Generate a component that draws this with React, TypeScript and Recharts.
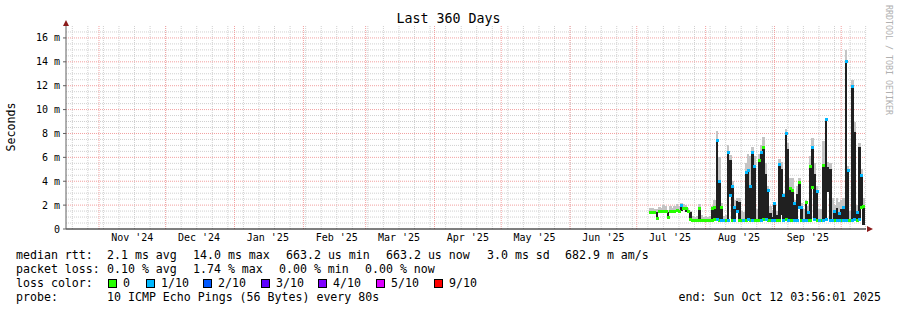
import React from 'react';
import { ComposedChart, Bar, Scatter, XAxis, YAxis, ReferenceLine, ReferenceDot } from 'recharts';

// ---- data (days since graph start, Oct 17 2024 03:56) ----
const sampleDay = [
  263, 264, 265, 266, 267, 268, 269, 270, 271, 272, 273, 274, 275, 276, 277, 278, 279, 280, 281, 282,
  283, 284, 285, 286, 287, 288, 289, 290, 291, 292, 293, 294, 295, 296, 297, 298, 299, 300, 301, 302,
  303, 304, 305, 306, 307, 308, 309, 310, 311, 312, 313, 314, 315, 316, 317, 318, 319, 320, 321, 322,
  323, 324, 325, 326, 327, 328, 329, 330, 331, 332, 333, 334, 335, 336, 337, 338, 339, 340, 341, 342,
  343, 344, 345, 346, 347, 348, 349, 350, 351, 352, 353, 354, 355, 356, 357, 358, 359,
];
// lowest median in the sample (ms)
const medianLow = [
  1.38, 1.38, 1.35, 0.85, 1.4, 1.4, 1.4, 1.35, 0.95, 1.4, 1.45, 1.45, 1.45, 1.45, 1.5, 1.55, 1.4, 1.4, 0.76, 0.72,
  0.72, 0.72, 0.75, 0.72, 0.72, 0.72, 0.72, 0.72, 0.75, 0.8, 0.8, 0.7, 0.7, 0.68, 0.68, 0.7, 2.8, 0.7, 0.7, 1.5,
  0.7, 0.68, 0.68, 0.7, 0.8, 0.75, 0.75, 0.75, 0.68, 0.7, 0.7, 0.8, 0.8, 0.7, 0.68, 0.68, 0.7, 0.7, 0.7, 1.2,
  0.7, 0.8, 0.75, 0.7, 0.7, 0.7, 0.7, 1.8, 0.7, 0.75, 0.7, 0.7, 0.7, 3.5, 0.8, 0.7, 0.68, 0.68, 0.7, 0.8,
  3.1, 0.7, 0.68, 0.7, 0.7, 0.7, 0.7, 0.7, 0.7, 0.7, 0.68, 0.7, 0.8, 0.7, 0.8, 1.8, 0.3,
];
// highest median in the sample (ms)
const medianHigh = [
  1.42, 1.42, 1.42, 1.4, 1.45, 1.45, 1.45, 1.45, 1.4, 1.5, 1.5, 1.5, 1.55, 1.5, 1.95, 1.7, 1.75, 1.5, 1.4, 0.8,
  0.8, 0.8, 1.7, 0.8, 0.8, 0.8, 0.8, 0.8, 1.7, 1.8, 7.4, 4.0, 1.8, 0.8, 0.8, 6.4, 5.8, 3.6, 1.8, 2.35,
  2.3, 0.8, 0.8, 4.7, 4.9, 3.6, 6.4, 5.2, 0.8, 5.7, 6.4, 6.85, 4.6, 3.2, 1.3, 1.0, 2.1, 1.2, 5.4, 5.0,
  2.8, 8.0, 6.7, 3.4, 3.2, 2.1, 2.9, 3.9, 1.8, 0.85, 2.2, 1.4, 5.2, 6.85, 4.6, 3.1, 0.8, 0.85, 5.3, 9.2,
  5.2, 5.05, 0.8, 1.5, 1.8, 1.26, 1.65, 1.8, 14.0, 4.9, 0.8, 11.9, 8.1, 1.4, 6.85, 4.5, 1.85,
];
// top of the grey smoke (ms)
const smokeTop = [
  1.75, 1.8, 1.7, 1.65, 1.85, 1.8, 2.0, 1.9, 1.6, 1.9, 1.8, 1.9, 2.1, 1.9, 2.2, 2.1, 2.0, 1.8, 1.5, 1.1,
  1.0, 1.1, 2.1, 1.2, 1.0, 1.1, 1.0, 1.1, 1.9, 2.4, 8.2, 6.0, 2.2, 1.1, 1.2, 7.0, 6.2, 4.0, 2.4, 2.6,
  2.6, 1.5, 1.4, 5.5, 6.3, 6.1, 6.9, 6.1, 1.7, 6.3, 7.0, 7.7, 5.5, 3.6, 1.9, 1.6, 2.3, 1.5, 5.9, 5.6,
  3.0, 8.4, 7.2, 4.3, 4.3, 2.4, 3.6, 4.3, 2.2, 1.7, 2.4, 1.9, 6.1, 7.6, 5.5, 3.6, 1.7, 1.7, 7.4, 9.3,
  5.6, 5.5, 2.6, 2.0, 2.6, 2.3, 2.4, 2.6, 15.0, 5.3, 1.5, 12.5, 9.0, 2.0, 7.2, 5.0, 2.6,
];
// packets lost (of 10) at the high / low median, null = no mark
const lossAtHigh = [
  0, 0, 0, null, 0, 0, 0, 0, null, 0, 0, 0, 0, 0, 1, 0, 0, 0, null, null,
  null, null, 0, null, null, null, null, null, 0, 0, 1, 1, 0, null, null, 1, null, 1, 1, null,
  null, null, null, 1, 1, 1, 1, 1, null, 0, 1, 0, null, 1, null, null, 1, null, 1, null,
  1, 1, null, 0, 0, 1, null, 0, 1, null, 0, 1, 0, 1, null, 1, null, null, 0, 1,
  null, null, null, 1, null, 1, null, 1, 1, 1, null, 1, null, 1, null, 1, 0,
];
const lossAtLow = [
  null, null, null, 0, null, null, null, null, 0, null, null, null, null, null, null, null, null, null, 0, 0,
  0, 0, 0, 0, 0, 0, 0, 0, 0, 0, 1, 0, 1, 1, 0, 1, 1, 0, 1, 1,
  0, 0, 1, 0, 1, 0, 1, 0, 0, 0, 1, 0, 1, 0, 0, 1, 1, 0, 0, null,
  1, 0, 1, 0, 0, 1, 1, 1, 0, 1, 1, 0, 0, 0, 1, 0, 1, 0, 1, 1,
  null, 1, 1, 0, 1, 1, 0, 1, 1, 0, 0, 1, 1, 0, 1, 0, null,
];

const monthStarts = [
  '2024-11-01', '2024-12-01', '2025-01-01', '2025-02-01', '2025-03-01', '2025-04-01',
  '2025-05-01', '2025-06-01', '2025-07-01', '2025-08-01', '2025-09-01', '2025-10-01',
];
const monthLabelDates = [
  '2024-11-16', '2024-12-16', '2025-01-16', '2025-02-16', '2025-03-16', '2025-04-16',
  '2025-05-16', '2025-06-16', '2025-07-16', '2025-08-16', '2025-09-16',
];
const monthLabels = [
  "Nov '24", "Dec '24", "Jan '25", "Feb '25", "Mar '25", "Apr '25",
  "May '25", "Jun '25", "Jul '25", "Aug '25", "Sep '25",
];
const yTicks = [0, 2, 4, 6, 8, 10, 12, 14, 16];
const yTickLabels = ['0', '2 m', '4 m', '6 m', '8 m', '10 m', '12 m', '14 m', '16 m'];
const firstSunday = '2024-10-20';
const lossColors = ['#26ff00', '#00b8ff', '#0059ff', '#5e00ff', '#7e00ff', '#dd00ff', '#ff0000'];
const lossLabels = ['0', '1/10', '2/10', '3/10', '4/10', '5/10', '9/10'];

const START = Date.UTC(2024, 9, 17, 3, 56, 1);
const DAY = 86400000;
const toDay = (s: string) => (Date.parse(s + 'T00:00:00Z') - START) / DAY;

const mono = '"DejaVu Sans Mono", monospace';
const MINOR = '#d0d0d0';
const MAJOR = '#f2a0a0';

const wideBar = (fill: string) => (p: any) => {
  if (p.x == null || p.y == null || !isFinite(p.height)) return <g />;
  const w = 2.6;
  const cx = p.x + p.width / 2;
  return (
    <rect x={cx - w / 2} y={p.y} width={w} height={Math.max(p.height, 1)} fill={fill} shapeRendering="crispEdges" />
  );
};

export default function App() {
  const rows = sampleDay.map((d, i) => ({
    day: d,
    smoke: [medianLow[i], smokeTop[i]],
    band: [medianLow[i], medianHigh[i]],
  }));
  const green: { day: number; v: number }[] = [];
  const blue: { day: number; v: number }[] = [];
  sampleDay.forEach((d, i) => {
    if (lossAtHigh[i] === 0) green.push({ day: d, v: medianHigh[i] });
    if (lossAtHigh[i] === 1) blue.push({ day: d, v: medianHigh[i] });
    if (lossAtLow[i] === 0) green.push({ day: d, v: medianLow[i] });
    if (lossAtLow[i] === 1) blue.push({ day: d, v: medianLow[i] });
  });

  const monthDays = monthStarts.map(toDay);
  const labelDays = monthLabelDates.map(toDay);
  const weekDays: number[] = [];
  for (let d = toDay(firstSunday); d < 360; d += 7) weekDays.push(d);
  const minorY: number[] = [];
  for (let v = 0.5; v < 17; v += 0.5) if (v % 2 !== 0) minorY.push(v);
  const majorY = yTicks.filter((v) => v > 0);

  const markShape = (p: any) => (
    <rect x={p.cx - 1.5} y={p.cy - 1.5} width={3} height={3} fill={p.fill} shapeRendering="crispEdges" />
  );

  const textRow = (top: number, items: [number, string][]) =>
    items.map(([x, t], k) => (
      <div
        key={top + '-' + k + '-' + x}
        style={{ position: 'absolute', left: x, top: top - 7, height: 14, lineHeight: '14px', fontFamily: mono, fontSize: 11.6, whiteSpace: 'pre', color: '#000' }}
      >
        {t}
      </div>
    ));

  const boxX = [108, 146, 203, 261, 318, 376, 434];

  return (
    <div style={{ position: 'absolute', left: 0, top: 0, width: 897, height: 310, background: '#fff', overflow: 'hidden' }}>
      <ComposedChart
        width={897}
        height={310}
        data={rows}
        margin={{ top: 26, right: 31, left: 16, bottom: 61 }}
      >
        <XAxis
          xAxisId={0}
          dataKey="day"
          type="number"
          domain={[0, 360]}
          ticks={labelDays}
          tick={false}
          tickLine={false}
          height={20}
          axisLine={{ stroke: '#000' }}
        />
        <XAxis xAxisId={1} dataKey="day" type="number" domain={[0, 360]} hide />
        <XAxis xAxisId={2} dataKey="day" type="number" domain={[0, 360]} hide />
        <YAxis
          type="number"
          domain={[0, 17]}
          ticks={yTicks}
          interval={0}
          width={50}
          tickFormatter={(v: number) => yTickLabels[yTicks.indexOf(v)] ?? ''}
          tick={{ fontFamily: mono, fontSize: 10, fill: '#000' }}
          tickSize={3}
          tickMargin={3}
          tickLine={{ stroke: '#606060' }}
          axisLine={{ stroke: '#606060' }}
        />
        {minorY.map((v) => (
          <ReferenceLine key={'my' + v} xAxisId={0} y={v} stroke={MINOR} strokeDasharray="1 1" zIndex={-10} />
        ))}
        {weekDays.map((v) => (
          <ReferenceLine key={'wx' + v} xAxisId={0} x={v} stroke={MINOR} strokeDasharray="1 1" zIndex={-10} />
        ))}
        {majorY.map((v) => (
          <ReferenceLine key={'My' + v} xAxisId={0} y={v} stroke={MAJOR} strokeDasharray="1 1" zIndex={-5} />
        ))}
        {monthDays.map((v) => (
          <ReferenceLine key={'Mx' + v} xAxisId={0} x={v} stroke={MAJOR} strokeDasharray="1 1" zIndex={-5} />
        ))}
        {labelDays.map((v, k) => (
          <ReferenceLine
            key={'lbl' + k}
            xAxisId={0}
            x={v}
            stroke="none"
            label={{ value: monthLabels[k], position: 'bottom', offset: 5, fontFamily: mono, fontSize: 10, fill: '#000' }}
          />
        ))}
        <Bar xAxisId={1} dataKey="smoke" fill="#c4c4c4" barSize={3} shape={wideBar('#c4c4c4')} isAnimationActive={false} />
        <Bar xAxisId={2} dataKey="band" fill="#202020" barSize={3} minPointSize={1} shape={wideBar('#202020')} isAnimationActive={false} />
        <Scatter xAxisId={0} data={green} dataKey="v" fill={lossColors[0]} shape={markShape} isAnimationActive={false} />
        <Scatter xAxisId={0} data={blue} dataKey="v" fill={lossColors[1]} shape={markShape} isAnimationActive={false} />
        <ReferenceDot
          xAxisId={0}
          x={0}
          y={17}
          ifOverflow="visible"
          shape={(p: any) => (
            <path d={`M${p.cx - 3},${p.cy} L${p.cx + 3},${p.cy} L${p.cx},${p.cy - 6} Z`} fill="#8b1a1a" />
          )}
        />
        <ReferenceDot
          xAxisId={0}
          x={360}
          y={0}
          ifOverflow="visible"
          shape={(p: any) => (
            <path d={`M${p.cx + 1},${p.cy - 3} L${p.cx + 1},${p.cy + 3} L${p.cx + 7},${p.cy} Z`} fill="#8b1a1a" />
          )}
        />
      </ComposedChart>

      <div style={{ position: 'absolute', left: 0, width: 897, top: 10, textAlign: 'center', fontFamily: mono, fontSize: 13.3, lineHeight: '18px', color: '#000' }}>
        Last 360 Days
      </div>
      <div style={{ position: 'absolute', left: 11, top: 127, width: 0, height: 0 }}>
        <div style={{ position: 'absolute', transform: 'translate(-50%, -50%) rotate(-90deg)', fontFamily: mono, fontSize: 11.6, whiteSpace: 'pre', color: '#000' }}>
          Seconds
        </div>
      </div>
      <div style={{ position: 'absolute', left: 884, top: 5, writingMode: 'vertical-rl', fontFamily: mono, fontSize: 8.3, color: '#b0b0b0', whiteSpace: 'pre', lineHeight: '9px' }}>
        RRDTOOL / TOBI OETIKER
      </div>

      {textRow(255, [
        [16, 'median rtt:'],
        [107, '2.1 ms avg'],
        [193, '14.0 ms max'],
        [286, '663.2 us min'],
        [386, '663.2 us now'],
        [487, '3.0 ms sd'],
        [565, '682.9 m am/s'],
      ])}
      {textRow(269, [
        [16, 'packet loss:'],
        [107, '0.10 % avg'],
        [193, '1.74 % max'],
        [279, '0.00 % min'],
        [365, '0.00 % now'],
      ])}
      {textRow(283, [[16, 'loss color:']])}
      {lossColors.map((c, k) => (
        <React.Fragment key={'lc' + k}>
          <div style={{ position: 'absolute', left: boxX[k], top: 279, width: 7, height: 7, background: c, border: '1px solid #000' }} />
          {textRow(283, [[boxX[k] + 15, lossLabels[k]]])}
        </React.Fragment>
      ))}
      {textRow(297, [
        [16, 'probe:'],
        [107, '10 ICMP Echo Pings (56 Bytes) every 80s'],
      ])}
      <div style={{ position: 'absolute', right: 16, top: 290, height: 14, lineHeight: '14px', fontFamily: mono, fontSize: 11.6, whiteSpace: 'pre', color: '#000' }}>
        end: Sun Oct 12 03:56:01 2025
      </div>
    </div>
  );
}
